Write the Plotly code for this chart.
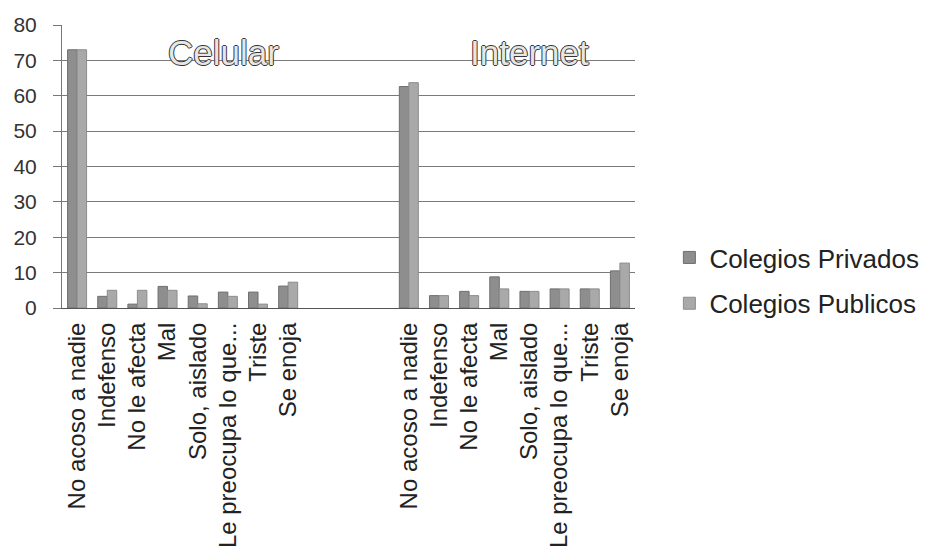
import plotly.graph_objects as go

# Responses per category, percent of students
categorias = [
    "No acoso a nadie", "Indefenso", "No le afecta", "Mal",
    "Solo, aislado", "Le preocupa lo que...", "Triste", "Se enoja",
]
celular_privados = [73.0, 3.3, 1.1, 6.1, 3.4, 4.5, 4.5, 6.2]
celular_publicos = [73.0, 5.0, 5.0, 5.0, 1.2, 3.3, 1.1, 7.3]
internet_privados = [62.6, 3.5, 4.7, 8.8, 4.7, 5.4, 5.4, 10.5]
internet_publicos = [63.7, 3.5, 3.5, 5.4, 4.7, 5.4, 5.4, 12.7]
grupos = ["Celular", "Internet"]
series = ["Colegios Privados", "Colegios Publicos"]
y_ticks = [0, 10, 20, 30, 40, 50, 60, 70, 80]

# Category slots: the two blocks are separated by three empty slots
n = len(categorias)
gap = 3
pos_cel = list(range(n))
pos_int = [i + n + gap for i in range(n)]
all_pos = pos_cel + pos_int
all_labels = categorias + categorias

colors = ["#8e8e8e", "#a9a9a9"]
edges = ["#6f6f6f", "#8c8c8c"]

fig = go.Figure()
for k, (name, vals) in enumerate([
    (series[0], celular_privados + internet_privados),
    (series[1], celular_publicos + internet_publicos),
]):
    fig.add_trace(go.Bar(
        x=all_pos, y=vals, name=name, legendgroup=name,
        marker=dict(color=colors[k], line=dict(color=edges[k], width=1)),
    ))

font_main = "Liberation Sans, Arial, sans-serif"

# Block titles over each group of bars (nudged right of the block centre)
title_shift = [1.35, 0.5]
for g, pos, dx in zip(grupos, [pos_cel, pos_int], title_shift):
    fig.add_annotation(
        x=(pos[0] + pos[-1]) / 2 + dx, y=72.2, xref="x", yref="y",
        text=g, showarrow=False,
        font=dict(family=font_main, size=35, color="#e6e6e6",
                  shadow="-1px 0 #333333, 1px 0 #333333, 0 -1px #333333, 0 1px #333333"),
    )

fig.update_layout(
    width=936, height=548,
    margin=dict(l=62, r=284, t=25, b=240),
    paper_bgcolor="white", plot_bgcolor="white",
    barmode="group", bargap=0.37, bargroupgap=0.0,
    font=dict(family=font_main, color="#222222"),
    legend=dict(
        x=1.06, xanchor="left", y=0.097, yanchor="middle",
        font=dict(size=26, color="#222222"),
        tracegroupgap=9, bgcolor="rgba(0,0,0,0)",
    ),
    showlegend=True,
)
fig.update_xaxes(
    range=[-0.5, len(all_pos) + gap - 0.5],
    tickmode="array", tickvals=all_pos, ticktext=all_labels,
    tickangle=-90, tickfont=dict(size=24, color="#222222"),
    ticks="", showgrid=False, showline=True, linecolor="#555555", linewidth=1,
    ticklabelstandoff=4, zeroline=False, automargin=False,
)
fig.update_yaxes(
    range=[0, 80], tickmode="array", tickvals=y_ticks,
    tickfont=dict(size=21, color="#333333"),
    ticks="outside", ticklen=8, tickcolor="#777777",
    showgrid=True, gridcolor="#7a7a7a", gridwidth=1,
    showline=True, linecolor="#777777", linewidth=1,
    zeroline=False, ticklabelstandoff=12, automargin=False,
)

fig.write_html("out.html")
